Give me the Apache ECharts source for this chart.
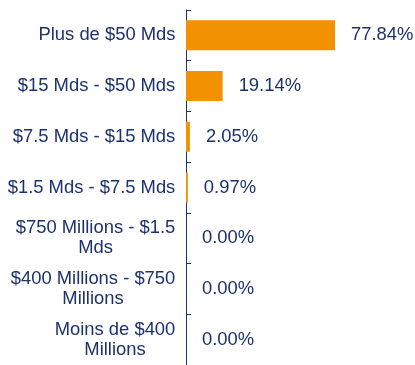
<!DOCTYPE html>
<html>
<head>
<meta charset="utf-8">
<style>
  html, body { margin: 0; padding: 0; background: #ffffff; }
  #chart { width: 415px; height: 365px; }
</style>
<script src="https://cdn.jsdelivr.net/npm/echarts@6/dist/echarts.min.js"></script>
</head>
<body>
<div id="chart"></div>
<script>
// Asset size brackets, top to bottom
const categories = [
  'Plus de $50 Mds',
  '$15 Mds - $50 Mds',
  '$7.5 Mds - $15 Mds',
  '$1.5 Mds - $7.5 Mds',
  '$750 Millions - $1.5\nMds',
  '$400 Millions - $750\nMillions',
  'Moins de $400\nMillions'
];
// Share of total, in percent
const shares = [77.84, 19.14, 2.05, 0.97, 0.00, 0.00, 0.00];

const navy = '#1c3170';
const orange = '#f39200';
const font = 'Liberation Sans, Arial, sans-serif';
const labelSize = 18.4;
const lineGap = 20;

// Wrapped category names: each line is centred inside a box as wide as
// that name's longest line, and the box sits right-aligned at the axis.
const measure = document.createElement('canvas').getContext('2d');
measure.font = labelSize + 'px ' + font;
const rich = {};
categories.forEach((name, i) => {
  const w = Math.max(...name.split('\n').map(s => measure.measureText(s).width));
  rich['c' + i] = {
    width: Math.ceil(w) + 1,
    align: 'center',
    color: navy,
    fontFamily: font,
    fontSize: labelSize,
    lineHeight: lineGap
  };
});

const chart = echarts.init(document.getElementById('chart'), null, { renderer: 'canvas' });
chart.setOption({
  animation: false,
  grid: { left: 186, top: 10, height: 357, width: 191.4, containLabel: false },
  xAxis: {
    type: 'value',
    min: 0,
    max: 100,
    show: false
  },
  yAxis: {
    type: 'category',
    inverse: true,
    data: categories,
    axisLine: { show: true, lineStyle: { color: navy, width: 1 } },
    axisTick: { show: true, inside: true, length: 5, lineStyle: { color: navy } },
    axisLabel: {
      color: navy,
      fontFamily: font,
      fontSize: labelSize,
      lineHeight: lineGap,
      margin: 10,
      align: 'right',
      formatter: (value, index) =>
        value.split('\n').map(s => '{c' + index + '|' + s + '}').join('\n'),
      rich: rich
    },
    splitLine: { show: false }
  },
  series: [{
    type: 'bar',
    data: shares,
    barWidth: 30,
    itemStyle: { color: orange },
    label: {
      show: true,
      position: 'right',
      distance: 16,
      color: navy,
      fontFamily: font,
      fontSize: labelSize,
      formatter: p => p.value.toFixed(2) + '%'
    }
  }]
});
</script>
</body>
</html>
